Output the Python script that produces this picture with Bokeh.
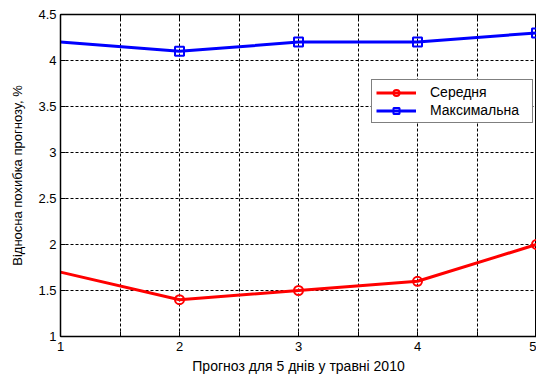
from bokeh.plotting import figure
from bokeh.models import Legend, LegendItem, FixedTicker, Range1d, LinearAxis
from bokeh.embed import file_html
from bokeh.resources import INLINE

days = [1, 2, 3, 4, 5]
mean_err = [1.7, 1.4, 1.5, 1.6, 2.0]
max_err = [4.2, 4.1, 4.2, 4.2, 4.3]
x_ticks = [1, 2, 3, 4, 5]
x_half_ticks = [1.5, 2.5, 3.5, 4.5]
y_ticks = [1, 1.5, 2, 2.5, 3, 3.5, 4, 4.5]
label_mean = "Середня"
label_max = "Максимальна"
x_title = "Прогноз для 5 днів у травні 2010"
y_title = "Відносна похибка прогнозу, %"

FONT = "Liberation Sans"

p = figure(width=536, height=376, output_backend="svg", toolbar_location=None,
           x_range=Range1d(1, 5), y_range=Range1d(1, 4.5),
           min_border_left=60, min_border_right=0, min_border_top=14, min_border_bottom=38)

p.outline_line_color = "black"
p.outline_line_width = 1
p.background_fill_color = "white"
p.border_fill_color = "white"

xt = FixedTicker(ticks=x_ticks, minor_ticks=x_half_ticks)
for g in (p.xgrid, p.ygrid):
    g.grid_line_color = "black"
    g.grid_line_dash = "3 2"
    g.grid_line_width = 1
p.xgrid.ticker = xt
p.xgrid.minor_grid_line_color = "black"
p.xgrid.minor_grid_line_dash = "3 2"
p.xgrid.minor_grid_line_width = 1
p.ygrid.ticker = FixedTicker(ticks=y_ticks)

p.xaxis.ticker = xt
p.yaxis.ticker = FixedTicker(ticks=y_ticks)
p.yaxis.major_label_overrides = {t: (str(int(t)) if t == int(t) else str(t)) for t in y_ticks}

for ax in (p.xaxis, p.yaxis):
    ax.axis_line_color = "black"
    ax.axis_line_width = 1.5
    ax.major_tick_in = 5
    ax.major_tick_out = 0
    ax.minor_tick_in = 5
    ax.minor_tick_out = 0
    ax.major_tick_line_color = "black"
    ax.minor_tick_line_color = "black"
    ax.major_label_text_font = FONT
    ax.major_label_text_font_size = "13px"
    ax.major_label_text_color = "black"
    ax.axis_label_text_font = FONT
    ax.axis_label_text_font_style = "normal"
    ax.axis_label_text_color = "black"

p.xaxis.axis_label = x_title
p.yaxis.axis_label = y_title
p.xaxis.axis_label_text_font_size = "14px"
p.yaxis.axis_label_text_font_size = "13px"
p.xaxis.major_label_standoff = 5
p.xaxis.axis_label_standoff = 4
p.yaxis.major_label_standoff = 4
p.yaxis.axis_label_standoff = 10

top_axis = LinearAxis(ticker=FixedTicker(ticks=[], minor_ticks=x_ticks + x_half_ticks),
                      major_tick_line_color=None, minor_tick_in=5, minor_tick_out=0,
                      minor_tick_line_color="black", major_label_standoff=0,
                      axis_line_color="black", axis_line_width=1.5)
p.add_layout(top_axis, "above")

r_line = p.line(days, mean_err, line_color="red", line_width=3)
r_pts = p.scatter(days[1:], mean_err[1:], marker="circle", size=9,
                  line_color="red", line_width=2, fill_color=None)
b_line = p.line(days, max_err, line_color="blue", line_width=3)
b_pts = p.scatter(days[1:], max_err[1:], marker="square", size=9,
                  line_color="blue", line_width=2, fill_color=None)

legend = Legend(items=[LegendItem(label=label_mean, renderers=[r_line, r_pts]),
                       LegendItem(label=label_max, renderers=[b_line, b_pts])],
                location=(311, 213))
legend.label_text_font = FONT
legend.label_text_font_size = "14px"
legend.label_text_color = "black"
legend.border_line_color = "black"
legend.border_line_width = 1
legend.background_fill_alpha = 1
legend.glyph_width = 40
legend.glyph_height = 15
legend.label_height = 15
legend.label_width = 98
legend.spacing = 2
legend.padding = 4
legend.margin = 0
legend.label_standoff = 14
p.add_layout(legend, "center")

open("out.html", "w").write(file_html(p, INLINE))
